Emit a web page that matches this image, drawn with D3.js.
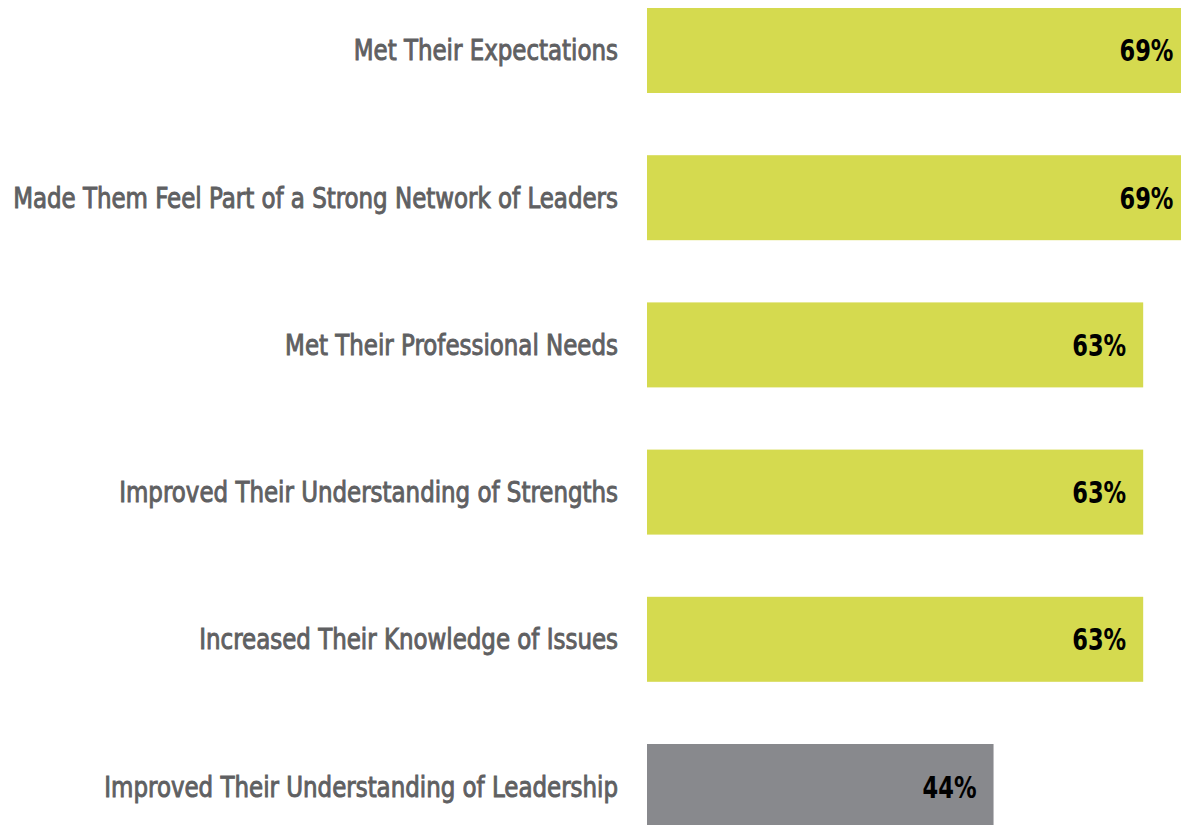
<!DOCTYPE html>
<html>
<head>
<meta charset="utf-8">
<script src="https://cdn.jsdelivr.net/npm/d3@7"></script>
<style>
  html, body { margin: 0; padding: 0; background: #ffffff; }
  svg { display: block; }
  .cat { font-family: "DejaVu Sans Condensed", "DejaVu Sans", sans-serif; font-weight: normal; fill: #5f6062; stroke: #5f6062; stroke-width: 0.9px; }
  .val { font-family: "DejaVu Sans Condensed", "DejaVu Sans", sans-serif; font-weight: bold; fill: #000000; }
</style>
</head>
<body>
<svg id="chart" width="1181" height="825"></svg>
<script>
const categories = [
  "Met Their Expectations",
  "Made Them Feel Part of a Strong Network of Leaders",
  "Met Their Professional Needs",
  "Improved Their Understanding of Strengths",
  "Increased Their Knowledge of Issues",
  "Improved Their Understanding of Leadership"
];
const values = [69, 69, 63, 63, 63, 44];
const barColors = ["#d5da4f", "#d5da4f", "#d5da4f", "#d5da4f", "#d5da4f", "#88898d"];

const svg = d3.select("#chart");
const x0 = 647;
const x = d3.scaleLinear().domain([0, 100]).range([x0, x0 + 787.6]);
const y = d3.scaleBand().domain(categories).range([8, 829]).paddingInner(0.4226).paddingOuter(0);

const rows = svg.selectAll("g.row").data(categories).enter().append("g").attr("class", "row");

rows.append("rect")
  .attr("x", x(0))
  .attr("y", d => y(d))
  .attr("width", (d, i) => x(values[i]) - x(0))
  .attr("height", y.bandwidth())
  .attr("fill", (d, i) => barColors[i]);

// category labels, condensed horizontally to mimic a narrow gothic face
const catG = rows.append("g")
  .attr("transform", d => `translate(${x(0) - 29},${y(d) + y.bandwidth() / 2 + 10})`);
const catT = catG.append("text")
  .attr("class", "cat")
  .attr("text-anchor", "end")
  .attr("font-size", 27.5)
  .text(d => d);
let maxW = 0;
catT.each(function() { maxW = Math.max(maxW, this.getComputedTextLength()); });
const sxCat = 605 / maxW;
catT.attr("transform", `scale(${sxCat},1)`);

const valG = rows.append("g")
  .attr("transform", (d, i) => `translate(${x(values[i]) - 17},${y(d) + y.bandwidth() / 2 + 11})`);
const valT = valG.append("text")
  .attr("class", "val")
  .attr("text-anchor", "end")
  .attr("font-size", 29.5)
  .text((d, i) => values[i] + "%");
const vw = valT.node().getComputedTextLength();
valT.attr("transform", `scale(${54 / vw},1)`);
</script>
</body>
</html>
